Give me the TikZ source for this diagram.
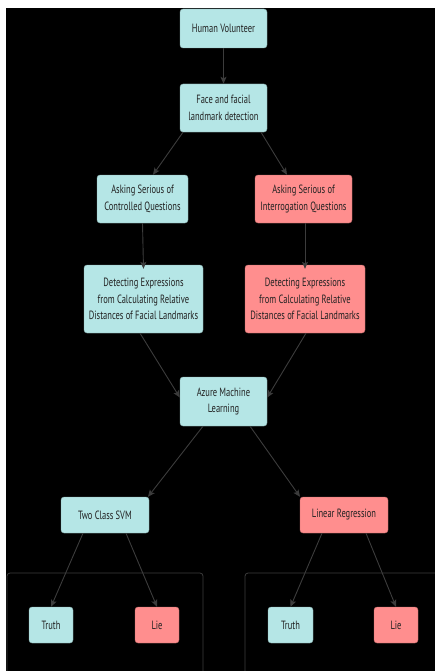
\documentclass[tikz,border=0pt]{standalone}
\usepackage{fontspec}
\setmainfont{PT Sans}[FakeStretch=0.71]
\usetikzlibrary{arrows.meta}
\definecolor{cy}{HTML}{B5E6E6}
\definecolor{rd}{HTML}{FF8E8E}
\definecolor{tx}{HTML}{222222}
\definecolor{ln}{HTML}{3C3C3C}
\begin{document}
\begin{tikzpicture}[x=1bp,y=-1bp,
  box/.style={rectangle,rounded corners=3bp,draw=#1!75!black,line width=0.4bp,fill=#1,
    text=tx,font=\fontsize{12}{16.5}\selectfont,align=center,inner sep=0pt},
  bw/.style n args={2}{minimum width=#1bp,minimum height=#2bp},
  arr/.style={draw=ln,line width=0.9bp,-{Stealth[length=7bp,width=6bp,inset=1.5bp]}},
  frame/.style={draw=ln,line width=0.8bp,rounded corners=3bp}]
\useasboundingbox (0,0) rectangle (435,671);
\fill[white] (0,0) rectangle (435,671);
\fill[black] (6,8) rectangle (435,671);
% panel frames
\draw[frame] (7,672) -- (7,573) -- (203,573) -- (203,672);
\draw[frame] (245,672) -- (245,573) -- (440,573);
% nodes
\node[box=cy,bw={87}{39}] (hv) at (223.5,28.5) {Human Volunteer};
\node[box=cy,bw={87}{48}] (face) at (223.5,108) {Face and facial\\landmark detection};
\node[box=cy,bw={91}{48}] (askc) at (142.5,199) {Asking Serious of\\Controlled Questions};
\node[box=rd,bw={97}{48}] (aski) at (303.5,199) {Asking Serious of\\Interrogation Questions};
\node[box=cy,bw={119}{68}] (detl) at (143.5,299) {Detecting Expressions\\from Calculating Relative\\Distances of Facial Landmarks};
\node[box=rd,bw={120}{68}] (detr) at (305,299) {Detecting Expressions\\from Calculating Relative\\Distances of Facial Landmarks};
\node[box=cy,bw={87}{49}] (az) at (223.5,401.5) {Azure Machine\\Learning};
\node[box=cy,bw={88}{36}] (svm) at (105,515) {Two Class SVM};
\node[box=rd,bw={88}{36}] (lr) at (344,515) {Linear Regression};
\node[box=cy,bw={44}{36}] (t1) at (51,625) {Truth};
\node[box=rd,bw={44}{36}] (l1) at (157,625) {Lie};
\node[box=cy,bw={45}{36}] (t2) at (290.5,625) {Truth};
\node[box=rd,bw={44}{36}] (l2) at (396,625) {Lie};
% connectors
\draw[arr] (hv.south) -- (face.north);
\draw[arr] ([xshift=-40.5bp]face.south) -- ([xshift=10.5bp]askc.north);
\draw[arr] ([xshift=37.5bp]face.south) -- ([xshift=-16.5bp]aski.north);
\draw[arr] (askc.south) -- ([yshift=-4bp]detl.north);
\draw[arr] ([xshift=1.5bp]aski.south) -- ([xshift=0bp,yshift=-4bp]detr.north);
\draw[arr] ([xshift=-3.5bp]detl.south) -- ([yshift=4bp]az.west);
\draw[arr] ([xshift=1bp]detr.south) -- ([yshift=4bp]az.east);
\draw[arr] ([xshift=-20.5bp]az.south) -- ([xshift=43bp]svm.north);
\draw[arr] ([xshift=26.5bp]az.south) -- ([xshift=-44bp]lr.north);
\draw[arr] ([xshift=-22bp]svm.south) -- (t1.north);
\draw[arr] ([xshift=21bp]svm.south) -- (l1.north);
\draw[arr] ([xshift=-22bp]lr.south) -- (t2.north);
\draw[arr] ([xshift=22bp]lr.south) -- (l2.north);
\end{tikzpicture}
\end{document}
